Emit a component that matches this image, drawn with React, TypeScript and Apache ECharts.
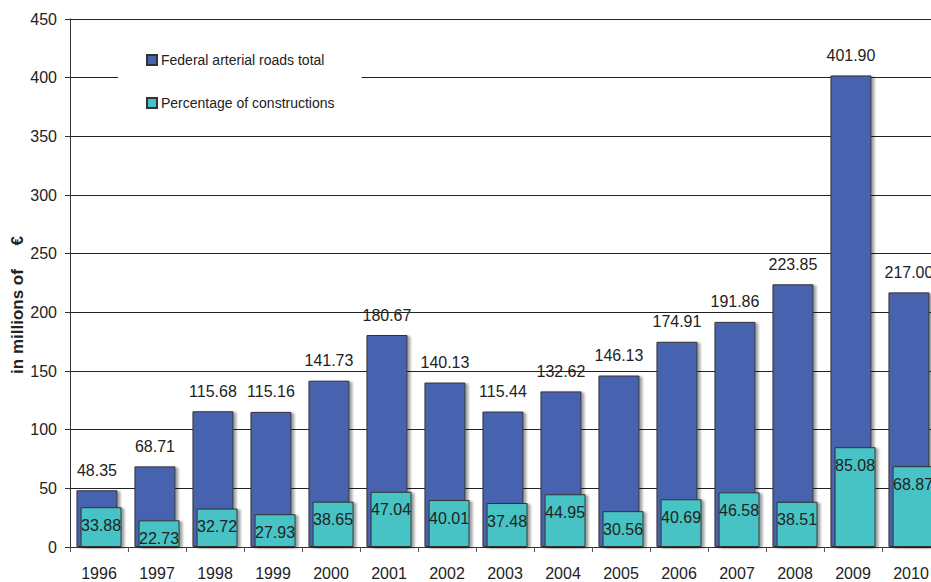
import React, { useEffect, useRef } from "react";
import * as echarts from "echarts";

const years = ["1996", "1997", "1998", "1999", "2000", "2001", "2002", "2003", "2004", "2005", "2006", "2007", "2008", "2009", "2010"];
const totalValues = [48.35, 68.71, 115.68, 115.16, 141.73, 180.67, 140.13, 115.44, 132.62, 146.13, 174.91, 191.86, 223.85, 401.9, 217.0];
const constructionValues = [33.88, 22.73, 32.72, 27.93, 38.65, 47.04, 40.01, 37.48, 44.95, 30.56, 40.69, 46.58, 38.51, 85.08, 68.87];
const yAxisTitle = "in millions of     €";

const FONT = "Liberation Sans, Arial, sans-serif";

export default function App() {
  const ref = useRef<HTMLDivElement>(null);
  useEffect(() => {
    if (!ref.current) return;
    const chart = echarts.init(ref.current, undefined, { renderer: "svg" });
    const shadow = {
      shadowColor: "rgba(0,0,0,0.35)",
      shadowOffsetX: 3,
      shadowOffsetY: 1,
      shadowBlur: 2,
    };
    chart.setOption({
      animation: false,
      backgroundColor: "#ffffff",
      textStyle: { fontFamily: FONT },
      graphic: [
        {
          type: "text",
          x: 17,
          y: 305,
          rotation: Math.PI / 2,
          style: {
            text: yAxisTitle,
            fontFamily: FONT,
            fontSize: 17,
            fontWeight: "bold",
            fill: "#222",
            align: "center",
            verticalAlign: "middle",
          },
        },
      ],
      legend: {
        orient: "vertical",
        left: 118,
        top: 33,
        padding: [20, 27, 20, 28],
        backgroundColor: "#ffffff",
        itemWidth: 10,
        itemHeight: 10,
        itemGap: 29,
        icon: "rect",
        textStyle: { fontFamily: FONT, fontSize: 14, color: "#222", padding: [0, 0, 0, -1] },
        data: ["Federal arterial roads total", "Percentage of constructions"],
      },
      grid: { left: 70, top: 19, width: 870, height: 528, containLabel: false, outerBoundsMode: "none" },
      xAxis: {
        type: "category",
        data: years,
        axisLine: { lineStyle: { color: "#333", width: 1 } },
        axisTick: { show: true, length: 5, lineStyle: { color: "#555" } },
        axisLabel: { fontFamily: FONT, fontSize: 16, color: "#222", margin: 18 },
      },
      yAxis: {
        type: "value",
        min: 0,
        max: 450,
        interval: 50,
        axisLine: { show: true, lineStyle: { color: "#333", width: 1 } },
        axisTick: { show: true, length: 5, lineStyle: { color: "#333" } },
        axisLabel: { fontFamily: FONT, fontSize: 16, color: "#222", margin: 13 },
        splitLine: { lineStyle: { color: "#222", width: 1 } },
      },
      series: [
        {
          name: "Federal arterial roads total",
          type: "bar",
          data: totalValues,
          barWidth: 41,
          barGap: "-90%",
          itemStyle: { color: "#4763AF", borderColor: "#333", borderWidth: 1, ...shadow },
          label: {
            show: true,
            position: "top",
            distance: 12,
            fontFamily: FONT,
            fontSize: 16,
            color: "#222",
            formatter: (p: any) => Number(p.value).toFixed(2),
          },
        },
        {
          name: "Percentage of constructions",
          type: "bar",
          data: constructionValues,
          barWidth: 41,
          itemStyle: { color: "#47C2C5", borderColor: "#333", borderWidth: 1, ...shadow },
          label: {
            show: true,
            position: "insideTop",
            distance: 10,
            fontFamily: FONT,
            fontSize: 16,
            color: "#222",
            formatter: (p: any) => Number(p.value).toFixed(2),
          },
        },
      ],
    });
    return () => chart.dispose();
  }, []);
  return (
    <div
      style={{ position: "fixed", left: 0, top: 0, width: 931, height: 582, overflow: "hidden", background: "#fff" }}
    >
      <div ref={ref} style={{ width: 960, height: 582 }} />
    </div>
  );
}
